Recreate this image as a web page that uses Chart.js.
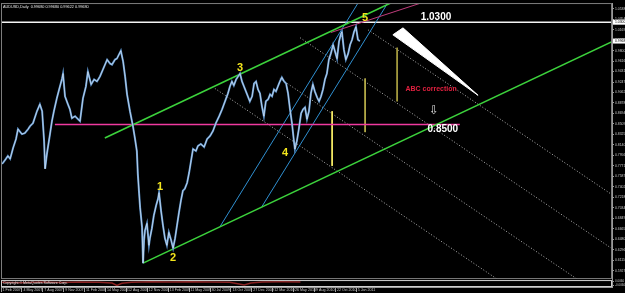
<!DOCTYPE html>
<html>
<head>
<meta charset="utf-8">
<script src="https://cdn.jsdelivr.net/npm/chart.js@4.4.1/dist/chart.umd.min.js"></script>
<style>
  html, body { margin: 0; padding: 0; background: #000; }
  #wrap { width: 625px; height: 293px; }
</style>
</head>
<body>
<div id="wrap"><canvas id="chart"></canvas></div>
<script>
// AUDUSD daily, values (x = bar number from 1 Feb 2007)
const dateLabels = ['1 Feb 2007', '4 May 2007', '7 Aug 2007', '9 Nov 2007', '11 Feb 2008', '14 May 2008',
    '12 Aug 2008', '12 Nov 2008', '13 Feb 2009', '11 May 2009', '30 Jul 2009', '13 Oct 2009', '27 Dec 2009',
    '12 Mar 2010', '26 May 2010', '9 Aug 2010', '22 Oct 2010', '5 Jan 2011'];
const barsPerLabel = 64;
const lastBar = 1871;
const priceMin = 0.5779;
const priceMax = 1.0637;
const priceTicks = [1.0538, 1.0354, 1.0169, 0.9985, 0.9800, 0.9616, 0.9431, 0.9247, 0.9062, 0.8878, 0.8694,
    0.8509, 0.8325, 0.8140, 0.7956, 0.7771, 0.7587, 0.7402, 0.7218, 0.7034, 0.6849, 0.6665, 0.6480, 0.6296,
    0.6111, 0.5927];

const priceBars = [3, 6, 15, 21, 28, 37, 46, 52, 64, 73, 83, 89, 98, 110, 119, 126, 132, 135, 141, 150,
    156, 162, 171, 178, 187, 190, 196, 205, 211, 217, 227, 236, 242, 251, 260, 266, 276, 285, 294, 303,
    312, 325, 334, 340, 349, 355, 361, 367, 374, 380, 386, 395, 404, 410, 416, 419, 423, 426, 432, 435,
    438, 441, 447, 453, 456, 462, 468, 475, 481, 484, 490, 496, 502, 508, 514, 521, 527, 533, 539, 545,
    551, 557, 563, 570, 576, 582, 588, 597, 603, 612, 622, 631, 640, 649, 658, 668, 677, 686, 695, 701,
    707, 713, 720, 726, 732, 738, 744, 750, 756, 762, 769, 775, 781, 787, 793, 799, 805, 811, 818, 824,
    830, 836, 842, 848, 854, 860, 867, 873, 879, 885, 891, 897, 900, 906, 912, 919, 925, 931, 937, 943,
    949, 955, 961, 968, 974, 980, 986, 992, 998, 1004, 1010, 1017, 1023, 1029, 1035, 1041, 1044, 1050, 1056, 1063,
    1069, 1075, 1081, 1087, 1093, 1099];
const priceValues = [0.7806, 0.7824, 0.7894, 0.7946, 0.7894, 0.8086, 0.8243, 0.8418, 0.8330, 0.8348,
    0.8418, 0.8470, 0.8523, 0.8732, 0.8855, 0.8732, 0.8208, 0.7719, 0.7998, 0.8330,
    0.8558, 0.8732, 0.8960, 0.9117, 0.9309, 0.9396, 0.8995, 0.8855, 0.8767, 0.8610,
    0.8645, 0.8593, 0.8558, 0.8960, 0.9169, 0.9431, 0.9204, 0.9292, 0.9257, 0.9344,
    0.9466, 0.9641, 0.9571, 0.9554, 0.9641, 0.9659, 0.9729, 0.9798, 0.9606, 0.9344,
    0.9030, 0.8732, 0.8470, 0.8261, 0.8033, 0.7631, 0.7282, 0.7037, 0.6688, 0.6059,
    0.6461, 0.6635, 0.6758, 0.6373, 0.6495, 0.6670, 0.6897, 0.7072, 0.7195, 0.7299,
    0.6985, 0.6723, 0.6495, 0.6373, 0.6600, 0.6461, 0.6321, 0.6495, 0.6723, 0.6950,
    0.7160, 0.7334, 0.7369, 0.7474, 0.7649, 0.7859, 0.8068, 0.8033, 0.8121, 0.8156,
    0.8103, 0.8243, 0.8296, 0.8383, 0.8523, 0.8645, 0.8767, 0.8907, 0.9047, 0.9169,
    0.9257, 0.9187, 0.9292, 0.9344, 0.9396, 0.9257, 0.9169, 0.9082, 0.8995, 0.8907,
    0.8995, 0.9222, 0.9257, 0.9117, 0.9047, 0.8820, 0.8645, 0.8907, 0.8942, 0.9030,
    0.8995, 0.9117, 0.9082, 0.9169, 0.9257, 0.9327, 0.9257, 0.9222, 0.9047, 0.8767,
    0.8523, 0.8208, 0.8068, 0.8208, 0.8418, 0.8697, 0.8767, 0.8802, 0.8593, 0.8732,
    0.9047, 0.9204, 0.9082, 0.8977, 0.8907, 0.8995, 0.9117, 0.9292, 0.9396, 0.9641,
    0.9746, 0.9903, 0.9781, 0.9659, 0.9956, 1.0096, 1.0130, 0.9816, 0.9641, 0.9746,
    0.9903, 0.9991, 1.0130, 1.0218, 0.9991, 0.9968];
const lastPrice = 0.9968;

// drawn objects, [bar, price] end points
const resistance = [[0, 1.0300], [1871, 1.0300]];
const support = [[165, 0.8500], [1405, 0.8500]];
const lowerChannel = [[435, 0.6059], [1871, 0.9956]];
const upperChannel = [[318, 0.8261], [1219, 1.0707]];
const fastChannelA = [[671, 0.6705], [1099, 1.0690]];
const fastChannelB = [[799, 0.7055], [1188, 1.0672]];
const topLine = [[1010, 1.0118], [1344, 1.0747]];
const projections = [
    [[655, 0.9134], [1519, 0.5779]],
    [[854, 0.9309], [1764, 0.5779]],
    [[916, 1.0026], [1871, 0.6314]],
    [[1124, 1.0165], [1871, 0.7264]]
];
const measureBars = [1014, 1115, 1213];
const measureTops = [0.8732, 0.9309, 0.9851];
const measureBottoms = [0.7771, 0.8365, 0.8907];
const wedge = [[1200, 1.0078], [1231, 1.0200], [1461, 0.9012], [1200, 1.0078]];

const waveNames = ['1', '2', '3', '4', '5'];
const waveBars = [487, 527, 732, 870, 1115];
const wavePrices = [0.7404, 0.6146, 0.9501, 0.7998, 1.0375];
const levelTexts = ['1.0300', '0.8500'];
const levelTextBars = [1332, 1353];
const levelTextPrices = [1.0393, 0.8418];
const calloutText = 'ABC correction';
const calloutBar = 1317;
const calloutPrice = 0.9117;
const arrowBar = 1326;
const arrowPrice = 0.8732;

// lower window indicator
const indicatorBars = [0, 60, 120, 180, 240, 300, 340, 355, 370, 400, 460, 520, 580, 640, 700, 725, 745, 765, 800, 860, 917];
const indicatorValues = [0.002, 0.001, 0.003, 0.0015, 0.003, 0.002, 0.0, -0.007, -0.001, 0.002, 0.0035,
    0.003, 0.004, 0.003, 0.0025, -0.002, -0.006, 0.0, 0.003, 0.0035, 0.003];
const indicatorTicks = [0.006, -0.006];

const FONT = '"Liberation Sans", Arial, sans-serif';

function pts(list) {
    return list.map(p => ({ x: p[0], y: p[1] }));
}

function line(points, color, width, extra) {
    return Object.assign({
        data: pts(points),
        borderColor: color,
        borderWidth: width,
        pointRadius: 0,
        fill: false,
        yAxisID: 'y'
    }, extra || {});
}

const priceData = priceBars.map((b, i) => [b, priceValues[i]]);
const measureColors = ['#fff36a', '#bdb24c', '#aaa042'];

const datasets = [
    line(wedge, '#ffffff', 1, { fill: 'shape', backgroundColor: '#ffffff' }),
    line(priceData, '#dce9f8', 0.7),
    line(priceData, '#5a8fc6', 2),
    line(lowerChannel, '#3cd23c', 1.6),
    line(upperChannel, '#3cd23c', 1.6),
    line(support, '#f03aa0', 1.6),
    line(topLine, '#c03c7c', 1),
    line(fastChannelA, '#2f8fd0', 1),
    line(fastChannelB, '#2f8fd0', 1)
];
measureBars.forEach((b, i) => {
    datasets.push(line([[b, measureTops[i]], [b, measureBottoms[i]]], measureColors[i], 1));
});
datasets.push(line(resistance, '#f4f4f4', 1.5));
projections.forEach(p => {
    datasets.push(line(p, '#b4b4b4', 1, { borderDash: [1, 2] }));
});
datasets.push({
    data: indicatorBars.map((b, i) => ({ x: b, y: indicatorValues[i] })),
    borderColor: '#8a2222',
    borderWidth: 1.5,
    pointRadius: 0,
    fill: false,
    yAxisID: 'y2'
});

function priceBox(ctx, y, value, area) {
    const py = y.getPixelForValue(value);
    ctx.fillStyle = '#ffffff';
    ctx.fillRect(area.right + 1, py - 2.5, 13, 5);
    ctx.fillStyle = '#000000';
    ctx.font = '3.4px ' + FONT;
    ctx.textAlign = 'left';
    ctx.textBaseline = 'middle';
    ctx.fillText(value.toFixed(5), area.right + 3, py);
}

const overlay = {
    id: 'overlay',
    beforeDraw(chart) {
        const ctx = chart.ctx;
        ctx.save();
        ctx.fillStyle = '#000000';
        ctx.fillRect(0, 0, chart.width, chart.height);
        ctx.restore();
    },
    afterDatasetsDraw(chart) {
        const { ctx, chartArea } = chart;
        const x = chart.scales.x, y = chart.scales.y, y2 = chart.scales.y2;
        const w = chartArea.right - chartArea.left;
        ctx.save();

        // window frames
        ctx.lineWidth = 1;
        ctx.strokeStyle = '#7d7d7d';
        ctx.strokeRect(chartArea.left + 0.5, y.top + 0.5, w - 1, y.bottom - y.top - 1);
        ctx.strokeStyle = '#cfcfcf';
        ctx.strokeRect(chartArea.left + 0.5, y2.top + 1.5, w - 1, y2.bottom - y2.top - 2);

        // captions
        ctx.textAlign = 'left';
        ctx.textBaseline = 'middle';
        ctx.fillStyle = '#e6e6e6';
        ctx.font = '3.8px ' + FONT;
        ctx.fillText('AUDUSD,Daily  0.99680 0.99680 0.99622 0.99680', chartArea.left + 2, y.top + 4);
        ctx.font = '3.6px ' + FONT;
        ctx.fillText('Copyright \u00a9 MetaQuotes Software Corp.', chartArea.left + 2, y2.top + 3.5);

        ctx.textAlign = 'center';
        ctx.font = 'bold 11px ' + FONT;
        ctx.fillStyle = '#f2e41c';
        waveNames.forEach((t, i) => {
            ctx.fillText(t, x.getPixelForValue(waveBars[i]), y.getPixelForValue(wavePrices[i]));
        });

        ctx.font = 'bold 10px ' + FONT;
        ctx.fillStyle = '#ffffff';
        levelTexts.forEach((t, i) => {
            ctx.fillText(t, x.getPixelForValue(levelTextBars[i]), y.getPixelForValue(levelTextPrices[i]));
        });

        ctx.font = 'bold 7px ' + FONT;
        ctx.fillStyle = '#e0203f';
        ctx.fillText(calloutText, x.getPixelForValue(calloutBar), y.getPixelForValue(calloutPrice));

        ctx.font = '12px "DejaVu Sans", sans-serif';
        ctx.fillStyle = '#d8d8d8';
        ctx.fillText('\u21e9', x.getPixelForValue(arrowBar), y.getPixelForValue(arrowPrice));

        // price labels on the axis
        priceBox(ctx, y, resistance[0][1], chartArea);
        priceBox(ctx, y, lastPrice, chartArea);
        ctx.restore();
    }
};

new Chart(document.getElementById('chart'), {
    type: 'line',
    data: { datasets: datasets },
    options: {
        responsive: true,
        maintainAspectRatio: false,
        animation: false,
        devicePixelRatio: 1,
        layout: { padding: { top: 1, left: 1, right: 0, bottom: 0 } },
        plugins: { legend: { display: false }, tooltip: { enabled: false } },
        elements: { line: { tension: 0 }, point: { radius: 0 } },
        scales: {
            x: {
                type: 'linear',
                min: 0,
                max: lastBar,
                afterBuildTicks: s => { s.ticks = dateLabels.map((_, i) => ({ value: i * barsPerLabel })); },
                afterFit: s => { s.height = 6; },
                border: { color: '#9a9a9a' },
                grid: { drawOnChartArea: false, color: '#9a9a9a', tickLength: 5 },
                ticks: {
                    autoSkip: false, maxRotation: 0, align: 'start', padding: -4, labelOffset: 1.5,
                    color: '#c8c8c8', font: { size: 3.6, family: FONT },
                    callback: (v, i) => dateLabels[i]
                }
            },
            y: {
                position: 'right',
                stack: 'win',
                stackWeight: 278,
                min: priceMin,
                max: priceMax,
                afterBuildTicks: s => { s.ticks = priceTicks.map(v => ({ value: v })); },
                afterFit: s => { s.width = 13; },
                border: { color: '#9a9a9a' },
                grid: { drawOnChartArea: false, color: '#9a9a9a', tickLength: 2 },
                ticks: {
                    autoSkip: false, padding: 1, color: '#c8c8c8', font: { size: 3.4, family: FONT },
                    callback: v => Number(v).toFixed(5)
                }
            },
            y2: {
                position: 'right',
                stack: 'win',
                stackWeight: 8,
                min: -0.012,
                max: 0.012,
                afterBuildTicks: s => { s.ticks = indicatorTicks.map(v => ({ value: v })); },
                afterFit: s => { s.width = 13; },
                border: { color: '#9a9a9a' },
                grid: { drawOnChartArea: false, color: '#9a9a9a', tickLength: 2 },
                ticks: {
                    autoSkip: false, padding: 1, color: '#c8c8c8', font: { size: 3, family: FONT },
                    callback: v => Number(v).toFixed(4)
                }
            }
        }
    },
    plugins: [overlay]
});
</script>
</body>
</html>
